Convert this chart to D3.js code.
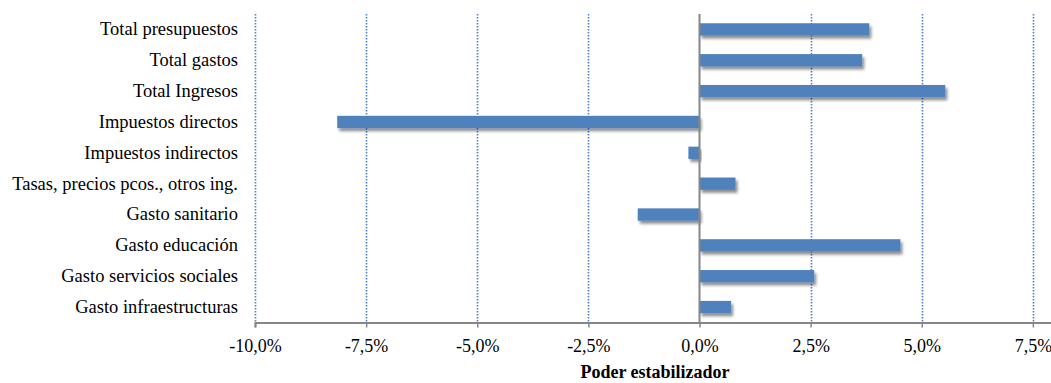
<!DOCTYPE html>
<html>
<head>
<meta charset="utf-8">
<script src="https://cdn.jsdelivr.net/npm/d3@7"></script>
<style>
  html, body { margin: 0; padding: 0; background: #fff; overflow: hidden; }
  svg { display: block; }
  text { font-family: "Liberation Serif", "Times New Roman", serif; fill: #000; }
</style>
</head>
<body>
<svg id="chart" width="1051" height="383"></svg>
<script>
// Stabilising power by budget item (%)
const categories = [
  "Total presupuestos",
  "Total gastos",
  "Total Ingresos",
  "Impuestos directos",
  "Impuestos indirectos",
  "Tasas, precios pcos., otros ing.",
  "Gasto sanitario",
  "Gasto educación",
  "Gasto servicios sociales",
  "Gasto infraestructuras"
];
const values = [3.82, 3.66, 5.53, -8.15, -0.25, 0.81, -1.39, 4.52, 2.58, 0.71];
const tickValues = [-10, -7.5, -5, -2.5, 0, 2.5, 5, 7.5];
const tickLabels = ["-10,0%", "-7,5%", "-5,0%", "-2,5%", "0,0%", "2,5%", "5,0%", "7,5%"];
const axisTitle = "Poder estabilizador";

const svg = d3.select("#chart");
const plot = { left: 255, top: 14, bottom: 322.5 };
const fontFamily = "Liberation Serif, Times New Roman, serif";

const x = d3.scaleLinear().domain([-10, 10]).range([plot.left, plot.left + 889]);
const y = d3.scaleBand().domain(categories).range([plot.top, plot.bottom]).paddingInner(0.6).paddingOuter(0.3);

// soft drop shadow under bars
const defs = svg.append("defs");
const f = defs.append("filter").attr("id", "shadow")
  .attr("x", "-10%").attr("y", "-60%").attr("width", "130%").attr("height", "260%");
f.append("feGaussianBlur").attr("in", "SourceAlpha").attr("stdDeviation", 1.8).attr("result", "b");
f.append("feOffset").attr("in", "b").attr("dx", 2).attr("dy", 3).attr("result", "o");
f.append("feComponentTransfer").attr("in", "o").attr("result", "s")
  .append("feFuncA").attr("type", "linear").attr("slope", 0.45);
const m = f.append("feMerge");
m.append("feMergeNode").attr("in", "s");
m.append("feMergeNode").attr("in", "SourceGraphic");

// vertical dotted gridlines
svg.append("g").selectAll("line")
  .data(tickValues.filter(v => v !== 0))
  .join("line")
  .attr("x1", d => Math.round(x(d)) + 0.5).attr("x2", d => Math.round(x(d)) + 0.5)
  .attr("y1", plot.top).attr("y2", plot.bottom)
  .attr("stroke", "#4a7fcf").attr("stroke-width", 1.6)
  .attr("stroke-dasharray", "1.5,1.5");

// bars
svg.append("g").selectAll("rect")
  .data(categories.map((c, i) => ({ c, v: values[i] })))
  .join("rect")
  .attr("x", d => x(Math.min(0, d.v)))
  .attr("width", d => Math.abs(x(d.v) - x(0)))
  .attr("y", d => y(d.c))
  .attr("height", y.bandwidth())
  .attr("fill", "#4f81bd")
  .attr("filter", "url(#shadow)");

// zero line
svg.append("line")
  .attr("x1", x(0)).attr("x2", x(0))
  .attr("y1", plot.top).attr("y2", plot.bottom)
  .attr("stroke", "#868686").attr("stroke-width", 2);

// x axis
const xAxis = d3.axisBottom(x)
  .tickValues(tickValues)
  .tickFormat((d, i) => tickLabels[i])
  .tickSize(5).tickPadding(11.5);
const gx = svg.append("g").attr("transform", `translate(0,${plot.bottom})`).call(xAxis);
gx.select(".domain").attr("stroke", "#868686").attr("stroke-width", 2);
gx.selectAll(".tick line").attr("stroke", "#868686").attr("stroke-width", 1.5);
gx.selectAll(".tick text")
  .attr("font-family", fontFamily)
  .attr("font-size", 18).attr("fill", "#000");

// category labels
const yAxis = d3.axisLeft(y).tickSize(0).tickPadding(17);
const gy = svg.append("g").attr("transform", `translate(${plot.left},0)`).call(yAxis);
gy.select(".domain").remove();
gy.selectAll(".tick text")
  .attr("font-family", fontFamily)
  .attr("font-size", 18.5).attr("fill", "#000");

// axis title
svg.append("text")
  .attr("x", 655).attr("y", 378)
  .attr("text-anchor", "middle")
  .attr("font-size", 18).attr("font-weight", "bold")
  .text(axisTitle);
</script>
</body>
</html>
